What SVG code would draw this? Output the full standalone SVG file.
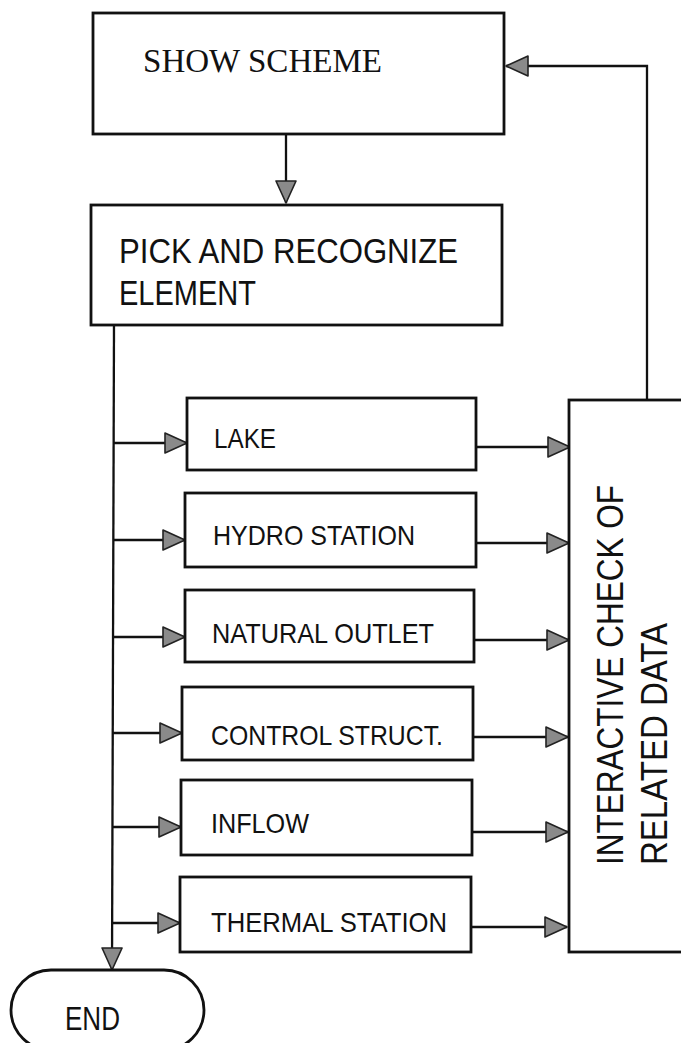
<svg xmlns="http://www.w3.org/2000/svg" width="681" height="1043" viewBox="0 0 681 1043">
<style>
.box{fill:#fff;stroke:#111;stroke-width:2.8}
.ln{fill:none;stroke:#111;stroke-width:2.3}
.t{font-family:"Liberation Sans",Arial,sans-serif;fill:#111}
.s{font-family:"Liberation Serif","Times New Roman",serif;fill:#111}
</style>
<defs>
<marker id="ah" viewBox="0 0 24 22" refX="23" refY="11" markerWidth="24" markerHeight="22" markerUnits="userSpaceOnUse" orient="auto">
<path d="M1,1 L23,11 L1,21 Z" fill="#8a8a8a" stroke="#222" stroke-width="1.6" stroke-linejoin="round"/>
</marker>
</defs>
<g id="connectors">
<path class="ln" d="M286,134 L286,203" marker-end="url(#ah)"/>
<path class="ln" d="M647,400 L647,66 L506,66" marker-end="url(#ah)"/>
<path class="ln" d="M114,325 L112,970" marker-end="url(#ah)"/>
<path class="ln" d="M114,443 L187,443" marker-end="url(#ah)"/>
<path class="ln" d="M114,540 L185,540" marker-end="url(#ah)"/>
<path class="ln" d="M113,637 L185,637" marker-end="url(#ah)"/>
<path class="ln" d="M113,733 L182,733" marker-end="url(#ah)"/>
<path class="ln" d="M112,827 L181,827" marker-end="url(#ah)"/>
<path class="ln" d="M112,923 L180,923" marker-end="url(#ah)"/>
<path class="ln" d="M476,447 L570,447" marker-end="url(#ah)"/>
<path class="ln" d="M476,543 L569,543" marker-end="url(#ah)"/>
<path class="ln" d="M474,640 L569,640" marker-end="url(#ah)"/>
<path class="ln" d="M473,737 L568,737" marker-end="url(#ah)"/>
<path class="ln" d="M472,832 L568,832" marker-end="url(#ah)"/>
<path class="ln" d="M471,927 L567,927" marker-end="url(#ah)"/>
</g>
<g id="show-scheme">
<rect class="box" x="93" y="13" width="411" height="121"/>
<text class="s" x="143" y="72" font-size="34" textLength="239" lengthAdjust="spacingAndGlyphs">SHOW SCHEME</text>
</g>
<g id="pick">
<rect class="box" x="91" y="205" width="411" height="120"/>
<text class="t" x="119" y="263" font-size="35" textLength="339" lengthAdjust="spacingAndGlyphs">PICK AND RECOGNIZE</text>
<text class="t" x="119" y="305" font-size="35" textLength="137" lengthAdjust="spacingAndGlyphs">ELEMENT</text>
</g>
<g id="lake">
<rect class="box" x="187" y="398" width="289" height="72"/>
<text class="t" x="214" y="448" font-size="28" textLength="62" lengthAdjust="spacingAndGlyphs">LAKE</text>
</g>
<g id="hydro">
<rect class="box" x="185" y="493" width="291" height="74"/>
<text class="t" x="213" y="545" font-size="28" textLength="202" lengthAdjust="spacingAndGlyphs">HYDRO STATION</text>
</g>
<g id="natural">
<rect class="box" x="185" y="590" width="289" height="72"/>
<text class="t" x="212" y="643" font-size="28" textLength="222" lengthAdjust="spacingAndGlyphs">NATURAL OUTLET</text>
</g>
<g id="control">
<rect class="box" x="182" y="687" width="291" height="73"/>
<text class="t" x="211" y="745" font-size="28" textLength="232" lengthAdjust="spacingAndGlyphs">CONTROL STRUCT.</text>
</g>
<g id="inflow">
<rect class="box" x="181" y="780" width="291" height="75"/>
<text class="t" x="211" y="833" font-size="28" textLength="98" lengthAdjust="spacingAndGlyphs">INFLOW</text>
</g>
<g id="thermal">
<rect class="box" x="180" y="877" width="291" height="75"/>
<text class="t" x="211" y="932" font-size="28" textLength="236" lengthAdjust="spacingAndGlyphs">THERMAL STATION</text>
</g>
<g id="interactive">
<rect class="box" x="569" y="400" width="130" height="552"/>
<text class="t" font-size="36" transform="translate(623,865) rotate(-90)" textLength="380" lengthAdjust="spacingAndGlyphs">INTERACTIVE CHECK OF</text>
<text class="t" font-size="36" transform="translate(667,865) rotate(-90)" textLength="242" lengthAdjust="spacingAndGlyphs">RELATED DATA</text>
</g>
<g id="end">
<rect class="box" x="11" y="970" width="193" height="80" rx="40" ry="40"/>
<text class="t" x="65" y="1030" font-size="34" textLength="55" lengthAdjust="spacingAndGlyphs">END</text>
</g>
</svg>
